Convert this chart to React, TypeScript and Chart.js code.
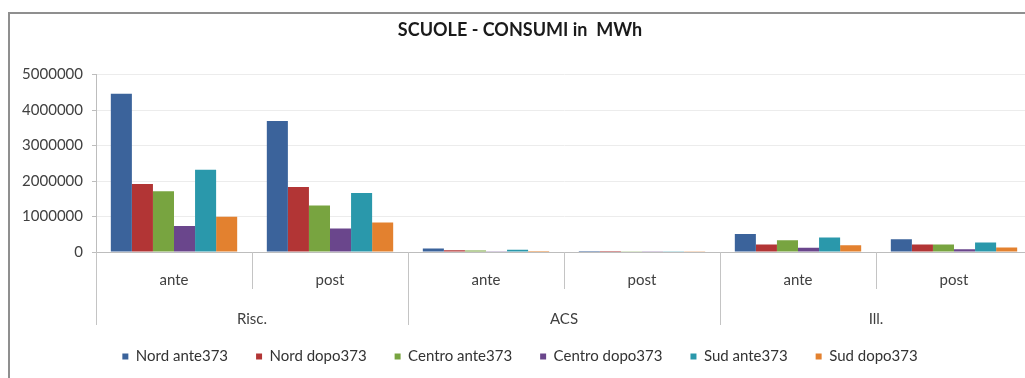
import React, { useEffect, useRef } from "react";
import { Chart, registerables } from "chart.js";

Chart.register(...registerables);

const subCategories = ["ante", "post", "ante", "post", "ante", "post"];
const groups = ["Risc.", "ACS", "Ill."];
const seriesNames = ["Nord ante373", "Nord dopo373", "Centro ante373", "Centro dopo373", "Sud ante373", "Sud dopo373"];
const nordAnte = [4460000, 3690000, 100000, 30000, 510000, 360000];
const nordDopo = [1920000, 1830000, 50000, 25000, 210000, 210000];
const centroAnte = [1710000, 1310000, 40000, 20000, 330000, 210000];
const centroDopo = [730000, 660000, 20000, 10000, 120000, 80000];
const sudAnte = [2320000, 1660000, 60000, 20000, 410000, 270000];
const sudDopo = [990000, 830000, 30000, 10000, 190000, 130000];
const seriesColors = ["#3b639b", "#b23535", "#78a440", "#6a468c", "#2a98ab", "#e3812f"];
const yMax = 5000000;
const yStep = 1000000;
const titleText = "SCUOLE - CONSUMI in  MWh";

const FONT = "Lato, 'Open Sans', sans-serif";

const groupPlugin = {
  id: "groupLabels",
  afterDraw(chart: any) {
    const x = chart.scales.x;
    const ctx = chart.ctx;
    const area = chart.chartArea;
    const top = area.bottom;
    const n = subCategories.length;
    const per = n / groups.length;
    const bounds: number[] = [area.left];
    for (let i = 0; i < n - 1; i++) {
      bounds.push((x.getPixelForTick(i) + x.getPixelForTick(i + 1)) / 2);
    }
    bounds.push(area.right);
    ctx.save();
    ctx.strokeStyle = "#c4c4c4";
    ctx.lineWidth = 1;
    for (let i = 0; i < bounds.length; i++) {
      const isGroup = i % per === 0;
      const bx = Math.round(bounds[i]) + 0.5;
      ctx.beginPath();
      ctx.moveTo(bx, top);
      ctx.lineTo(bx, top + (isGroup ? 73 : 37));
      ctx.stroke();
    }
    ctx.fillStyle = "#404040";
    ctx.font = "15px " + FONT;
    ctx.textAlign = "center";
    ctx.textBaseline = "middle";
    groups.forEach((g, gi) => {
      const l = bounds[gi * per];
      const r = bounds[gi * per + per];
      ctx.fillText(g, (l + r) / 2, top + 67);
    });
    ctx.restore();
  },
};

export default function App() {
  const ref = useRef<HTMLCanvasElement | null>(null);

  useEffect(() => {
    const lists = [nordAnte, nordDopo, centroAnte, centroDopo, sudAnte, sudDopo];
    const chart = new Chart(ref.current as HTMLCanvasElement, {
      type: "bar",
      data: {
        labels: subCategories,
        datasets: lists.map((d, i) => ({
          label: seriesNames[i],
          data: d,
          backgroundColor: seriesColors[i],
          borderWidth: 0,
          barPercentage: 1.0,
          categoryPercentage: 0.81,
        })),
      },
      options: {
        animation: false,
        responsive: false,
        layout: { padding: { top: 0, right: 10, bottom: 4, left: 0 } },
        plugins: {
          title: {
            display: true,
            text: titleText,
            color: "#1a1a1a",
            font: { family: FONT, size: 18, weight: "bold" },
            padding: { top: 11, bottom: 34 },
          },
          legend: {
            position: "bottom",
            labels: {
              boxWidth: 6,
              boxHeight: 6,
              padding: 28,
              color: "#333",
              font: { family: FONT, size: 15 },
            },
          },
          tooltip: { enabled: false },
        },
        scales: {
          x: {
            grid: { display: false },
            border: { display: true, color: "#bdbdbd" },
            ticks: { color: "#404040", font: { family: FONT, size: 15 }, padding: 11 },
            afterFit: (s: any) => {
              s.height = 69;
            },
          },
          y: {
            min: 0,
            max: yMax,
            ticks: {
              stepSize: yStep,
              color: "#404040",
              font: { family: FONT, size: 15 },
              padding: 9,
              callback: (v: any) => String(v),
            },
            grid: { color: "#ececec", tickLength: 4, tickColor: "#bdbdbd" },
            border: { display: true, color: "#bdbdbd" },
            afterFit: (s: any) => {
              s.width = 88;
            },
          },
        },
      },
      plugins: [groupPlugin],
    });
    return () => chart.destroy();
  }, []);

  return (
    <div
      style={{
        position: "fixed",
        left: 8,
        top: 8,
        width: 1017,
        height: 370,
        overflow: "hidden",
        background: "#fff",
      }}
    >
      <canvas ref={ref} width={1034} height={370} style={{ display: "block" }} />
      <div
        style={{
          position: "absolute",
          left: 0,
          top: 4,
          width: 1100,
          height: 400,
          borderTop: "2px solid #8f8f8f",
          borderLeft: "2px solid #8f8f8f",
          pointerEvents: "none",
        }}
      />
    </div>
  );
}
